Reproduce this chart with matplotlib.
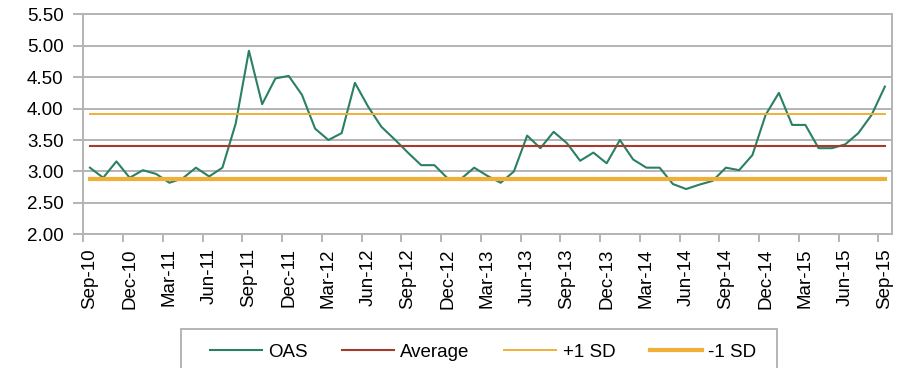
import matplotlib
matplotlib.use("Agg")
import matplotlib.pyplot as plt
from matplotlib.patches import Rectangle
import numpy as np

plt.rcParams['font.family'] = ['Liberation Sans', 'DejaVu Sans']

# Monthly option-adjusted spread, Sep-10 .. Sep-15
months = ["Sep", "Oct", "Nov", "Dec", "Jan", "Feb", "Mar", "Apr", "May", "Jun", "Jul", "Aug"]
start_year = 10
oas = [3.06, 2.90, 3.16, 2.90, 3.02, 2.96, 2.82, 2.89, 3.06, 2.92, 3.06,
       3.76, 4.92, 4.07, 4.48, 4.52, 4.22, 3.68, 3.50, 3.61, 4.41,
       4.03, 3.71, 3.51, 3.30, 3.10, 3.10, 2.89, 2.88, 3.06, 2.93,
       2.82, 3.00, 3.57, 3.37, 3.63, 3.45, 3.17, 3.30, 3.13, 3.50,
       3.19, 3.06, 3.06, 2.80, 2.72, 2.79, 2.85, 3.06, 3.02, 3.26,
       3.90, 4.25, 3.74, 3.74, 3.37, 3.37, 3.43, 3.61, 3.90, 4.35]
average = 3.40
plus_sd = 3.91
minus_sd = 2.88

n = len(oas)
labels = []
for i in range(n):
    m = months[i % 12]
    yr = start_year + (i + 8) // 12
    labels.append(f"{m}-{yr:02d}")

grid_c = '#b4b4b4'
green = '#2a8062'
red = '#a53b2c'
orange = '#f0b035'
fs = 13.5

fig = plt.figure(figsize=(9.02, 3.68), dpi=100)
ax = fig.add_axes([83.3 / 902, 1 - 234.3 / 368, (891.5 - 83.3) / 902, (234.3 - 14.3) / 368])

x = np.arange(n)
ax.plot(x, oas, color=green, lw=1.5, label='OAS', zorder=3)
ax.plot(x, [average] * n, color=red, lw=1.5, label='Average', zorder=3)
ax.plot(x, [plus_sd] * n, color=orange, lw=1.4, label='+1 SD', zorder=3)
ax.plot(x, [minus_sd] * n, color=orange, lw=3.0, label='-1 SD', zorder=4)

ax.set_xlim(-0.5, n - 0.5)
ax.set_ylim(2.0, 5.5)
yt = np.arange(2.0, 5.51, 0.5)
ax.set_yticks(yt)
ax.set_yticklabels([f"{v:.2f}" for v in yt])
ax.yaxis.grid(True, color=grid_c, lw=1.4)
ax.set_axisbelow(True)

ax.set_xticks(x[::3])
ax.set_xticklabels(labels[::3], rotation=90)
ax.set_xticks(np.arange(-0.5, n - 1, 3), minor=True)
ax.tick_params(axis='x', which='major', length=0, pad=10, labelsize=fs)
ax.tick_params(axis='x', which='minor', length=6, width=1.4, color=grid_c, direction='out')
ax.tick_params(axis='y', length=7.2, width=1.4, color=grid_c, pad=7.0, labelsize=fs)

for s in ax.spines.values():
    s.set_color(grid_c)
    s.set_linewidth(1.4)

# legend frame along the bottom edge
fig.add_artist(Rectangle((181 / 902, -0.1), (777 - 181) / 902, 0.1 + 1 - 329 / 368,
                         transform=fig.transFigure, fill=False, edgecolor=grid_c, lw=1.4))
fig.legend(loc='center', bbox_to_anchor=(483 / 902, 1 - 352 / 368), ncol=4, frameon=False,
           fontsize=fs, handlelength=2.77, handletextpad=0.33, columnspacing=1.85,
           borderaxespad=0, borderpad=0)

fig.savefig('out.png', dpi=100)
